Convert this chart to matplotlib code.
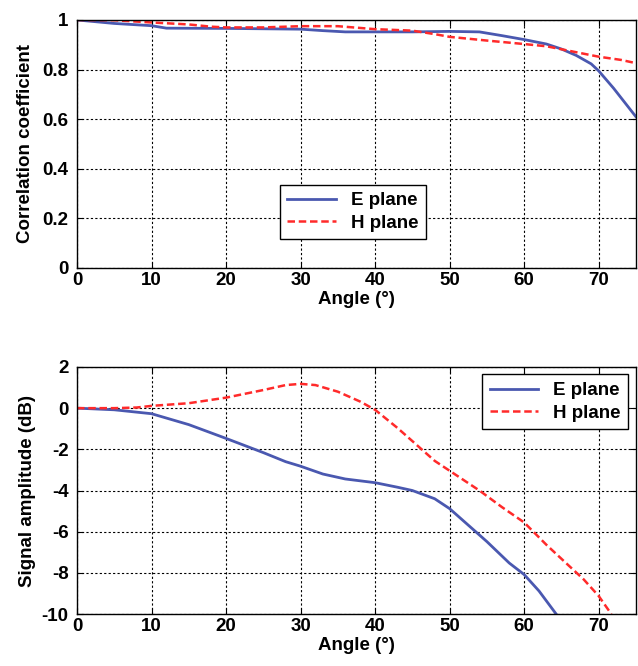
import matplotlib
matplotlib.use("Agg")
import matplotlib.pyplot as plt

plt.rcParams["font.family"] = ["Liberation Sans", "DejaVu Sans"]
plt.rcParams["font.weight"] = "bold"
plt.rcParams["axes.labelweight"] = "bold"
plt.rcParams["axes.unicode_minus"] = False
plt.rcParams["font.size"] = 13.5

# top panel: correlation coefficient vs angle
corr_e_angle = [0, 5, 10, 12, 20, 30, 33, 36, 45, 50, 54, 57, 60, 63, 65, 67, 69, 70, 72, 75]
corr_e = [1.0, 0.986, 0.977, 0.967, 0.966, 0.963, 0.957, 0.952, 0.952, 0.954, 0.952,
          0.937, 0.921, 0.903, 0.883, 0.857, 0.823, 0.795, 0.725, 0.61]
corr_h_angle = [0, 5, 10, 15, 18, 20, 25, 30, 35, 40, 45, 48, 50, 55, 60, 63, 66, 70, 73, 75]
corr_h = [1.0, 0.999, 0.99, 0.982, 0.973, 0.97, 0.97, 0.975, 0.975, 0.963, 0.957, 0.943,
          0.932, 0.917, 0.903, 0.894, 0.876, 0.852, 0.839, 0.826]

# bottom panel: signal amplitude vs angle
amp_e_angle = [0, 5, 10, 15, 20, 25, 28, 30, 33, 36, 40, 43, 45, 48, 50, 53, 55, 58, 60, 62, 64.3]
amp_e = [0, -0.08, -0.27, -0.8, -1.47, -2.16, -2.6, -2.82, -3.2, -3.44, -3.62, -3.84,
         -4.0, -4.4, -4.88, -5.84, -6.48, -7.52, -8.08, -8.88, -10.0]
amp_h_angle = [0, 5, 8, 10, 15, 20, 25, 28, 30, 32, 35, 38, 40, 43, 45, 48, 50, 54, 57,
               60, 63, 66, 68, 70, 71.7]
amp_h = [0, 0.0, 0.03, 0.11, 0.24, 0.51, 0.88, 1.12, 1.18, 1.12, 0.8, 0.32, -0.08,
         -0.96, -1.6, -2.56, -3.04, -4.0, -4.8, -5.55, -6.64, -7.65, -8.32, -9.12, -10.0]

blue = "#4a58b0"
red = "#ff2a2a"


def style_axis(axis):
    axis.grid(True, color="black", linestyle=(0, (2, 2)), linewidth=0.8)
    axis.tick_params(direction="in", top=True, right=True, length=4, width=0.8)
    axis.tick_params(axis="y", pad=6)
    axis.tick_params(axis="x", pad=3)
    for spine in axis.spines.values():
        spine.set_linewidth(1.0)
    axis.set_xlim(0, 75)
    axis.set_xticks([0, 10, 20, 30, 40, 50, 60, 70])
    axis.set_xlabel("Angle (°)", labelpad=1)


figure = plt.figure(figsize=(6.38, 6.66), dpi=100)
top = figure.add_axes([0.1207, 0.5976, 0.876, 0.3724])
bottom = figure.add_axes([0.1207, 0.078, 0.876, 0.371])

top.plot(corr_e_angle, corr_e, color=blue, linewidth=2, label="E plane")
top.plot(corr_h_angle, corr_h, color=red, linewidth=1.8, linestyle=(0, (3, 1.5)), label="H plane")
style_axis(top)
top.set_ylim(0, 1)
top.set_yticks([0, 0.2, 0.4, 0.6, 0.8, 1])
top.set_yticklabels(["0", "0.2", "0.4", "0.6", "0.8", "1"])
top.set_ylabel("Correlation coefficient", labelpad=6)
top.legend(loc="center", bbox_to_anchor=(0.494, 0.226), fancybox=False,
           edgecolor="black", framealpha=1, handlelength=2.6, borderpad=0.4,
           labelspacing=0.3)

bottom.plot(amp_e_angle, amp_e, color=blue, linewidth=2, label="E plane")
bottom.plot(amp_h_angle, amp_h, color=red, linewidth=1.8, linestyle=(0, (3, 1.5)), label="H plane")
style_axis(bottom)
bottom.set_ylim(-10, 2)
bottom.set_yticks([-10, -8, -6, -4, -2, 0, 2])
bottom.set_ylabel("Signal amplitude (dB)", labelpad=4)
bottom.legend(loc="upper right", fancybox=False, edgecolor="black", framealpha=1,
              handlelength=2.6, borderpad=0.4, labelspacing=0.3, borderaxespad=0.4)

figure.savefig("out.png", dpi=100)
